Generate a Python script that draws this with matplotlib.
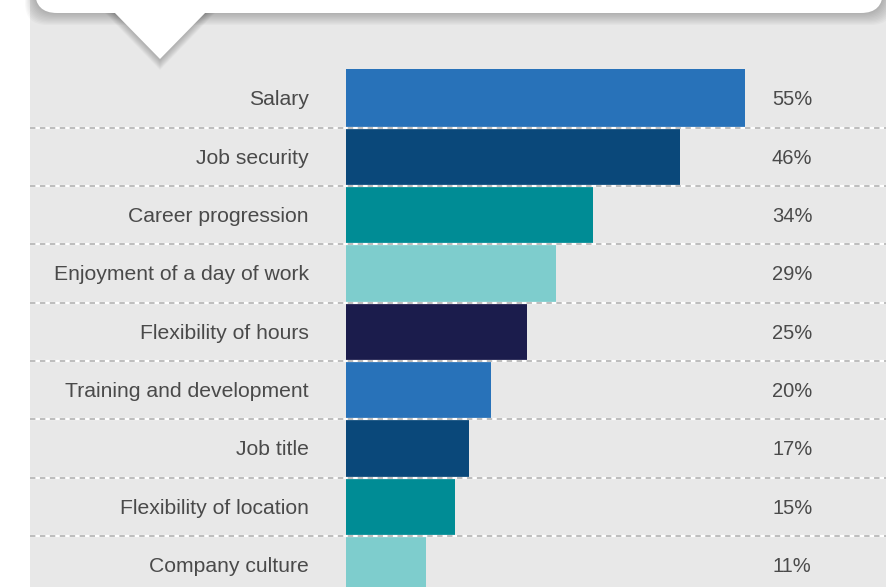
import matplotlib.pyplot as plt
from matplotlib.patches import Rectangle, FancyBboxPatch, Polygon

categories = ["Salary", "Job security", "Career progression", "Enjoyment of a day of work",
              "Flexibility of hours", "Training and development", "Job title",
              "Flexibility of location", "Company culture"]
values = [55, 46, 34, 29, 25, 20, 17, 15, 11]
value_labels = ["55%", "46%", "34%", "29%", "25%", "20%", "17%", "15%", "11%"]
colors = ["#2872b9", "#0a487a", "#008c95", "#7ecdcd", "#1b1c4c",
          "#2872b9", "#0a487a", "#008c95", "#7ecdcd"]

W, H = 887, 587
fig = plt.figure(figsize=(W / 100, H / 100), dpi=100)
fig.patch.set_facecolor("white")

# pixel geometry -> data limits
px_per_pct = 7.25
x0_px = 346
row_h = 58.35
row0 = 98.5

# background layer in pixel coords: gray panel
bg = fig.add_axes([0, 0, 1, 1], zorder=-5)
bg.set_xlim(0, W)
bg.set_ylim(H, 0)
bg.axis("off")
bg.add_patch(Rectangle((30, -5), W, H + 10, facecolor="#e8e8e8", edgecolor="none"))

ax = fig.add_axes([0, 0, 1, 1], zorder=1)
ax.set_facecolor("none")
ax.set_xlim(-x0_px / px_per_pct, (W - x0_px) / px_per_pct)
ax.set_ylim((H - row0) / row_h, -row0 / row_h)
ax.axis("off")

ypos = list(range(len(categories)))
ax.barh(ypos, values, height=1.0, color=colors, edgecolor="none", zorder=2)

left_line = (30 - x0_px) / px_per_pct
right_line = (W - x0_px) / px_per_pct
for i in range(len(categories) - 1):
    y = i + 0.5
    ax.plot([left_line, right_line], [y, y], color="white", lw=1.6, zorder=3)
    ax.plot([left_line, right_line], [y, y], color="#b8b8b8", lw=1.3,
            dashes=(3, 2.5), zorder=4)

text_kw = dict(color="#4a4a4a", family="Liberation Sans", va="center")
for i, (cat, lab) in enumerate(zip(categories, value_labels)):
    ax.text(-37 / px_per_pct, i + 0.02, cat, ha="right", fontsize=15.2, **text_kw)
    ax.text((772 - x0_px) / px_per_pct, i + 0.02, lab, ha="left", fontsize=14.5, **text_kw)

# speech bubble at the top (overlay in pixel coords)
ov = fig.add_axes([0, 0, 1, 1], zorder=5)
ov.set_xlim(0, W)
ov.set_ylim(H, 0)
ov.axis("off")
ov.set_facecolor("none")

for k in range(10, 0, -1):
    a = 0.025
    ov.add_patch(FancyBboxPatch((35 - k, -60), 848 + 2 * k, 73 + k * 1.2,
                                boxstyle="round,pad=0,rounding_size=22",
                                facecolor="black", alpha=a, edgecolor="none"))
    ov.add_patch(Polygon([(112 - k, 10), (208 + k, 10), (160, 60 + k)],
                         closed=True, facecolor="black", alpha=a, edgecolor="none"))

ov.add_patch(FancyBboxPatch((35, -60), 848, 73, boxstyle="round,pad=0,rounding_size=22",
                            facecolor="white", edgecolor="none"))
ov.add_patch(Polygon([(112, 10), (208, 10), (160, 59)], closed=True,
                     facecolor="white", edgecolor="none"))

fig.savefig("out.png", dpi=100)
